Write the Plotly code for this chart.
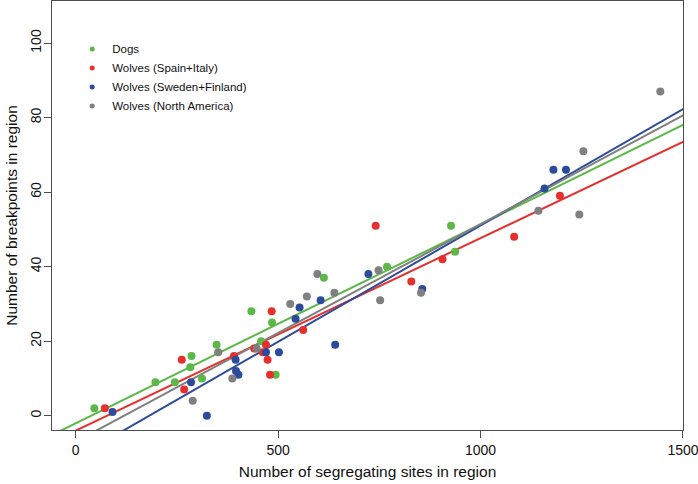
import numpy as np
import plotly.graph_objects as go

# ---- data ----
series_names = ["Dogs", "Wolves (Spain+Italy)", "Wolves (Sweden+Finland)", "Wolves (North America)"]
series_colors = ["#5cb848", "#e5302d", "#2d4b9b", "#808080"]

dogs_x = [46, 197, 245, 283, 286, 312, 348, 434, 458, 485, 494, 613, 769, 927, 937]
dogs_y = [2, 9, 9, 13, 16, 10, 19, 28, 20, 25, 11, 37, 40, 51, 44]

spit_x = [72, 262, 268, 391, 441, 462, 470, 474, 480, 484, 562, 741, 829, 906, 1083, 1196]
spit_y = [2, 15, 7, 16, 18, 17, 19, 15, 11, 28, 23, 51, 36, 42, 48, 59]

swfi_x = [91, 285, 324, 395, 396, 402, 470, 502, 543, 553, 605, 641, 723, 856, 1158, 1180, 1211]
swfi_y = [1, 9, 0, 15, 12, 11, 17, 17, 26, 29, 31, 19, 38, 34, 61, 66, 66]

noam_x = [289, 352, 387, 447, 530, 571, 597, 639, 748, 752, 853, 1143, 1244, 1254, 1444]
noam_y = [4, 17, 10, 18, 30, 32, 38, 33, 39, 31, 33, 55, 54, 71, 87]

x_ticks = [0, 500, 1000, 1500]
y_ticks = [0, 20, 40, 60, 80, 100]

all_x = [dogs_x, spit_x, swfi_x, noam_x]
all_y = [dogs_y, spit_y, swfi_y, noam_y]

x_range = [-58.5, 1500.05]
y_range = [-3.85, 111.3]

fig = go.Figure()

# regression lines (least squares fit of each series)
line_x = np.array([-200.0, 1700.0])
for xs, ys, col, name in zip(all_x, all_y, series_colors, series_names):
    b, a = np.polyfit(xs, ys, 1)
    fig.add_trace(go.Scatter(x=line_x, y=a + b * line_x, mode="lines",
                             line=dict(color=col, width=2), showlegend=False,
                             hoverinfo="skip"))

# points
for xs, ys, col, name in zip(all_x, all_y, series_colors, series_names):
    fig.add_trace(go.Scatter(x=xs, y=ys, mode="markers", name=name,
                             marker=dict(color=col, size=8, line=dict(width=0)),
                             showlegend=False, cliponaxis=True))

# legend entries (small dots like the reference legend)
for col, name in zip(series_colors, series_names):
    fig.add_trace(go.Scatter(x=[None], y=[None], mode="markers", name=name,
                             marker=dict(color=col, size=5)))

axis_common = dict(showgrid=False, zeroline=False, showline=True, mirror=True,
                   linecolor="#4d4d4d", linewidth=1, ticks="outside", ticklen=7,
                   tickcolor="#4d4d4d", tickwidth=1, ticklabeloverflow="allow",
                   tickfont=dict(family="Liberation Sans, Arial, sans-serif", size=14, color="#111"))

fig.update_layout(
    width=698, height=484,
    margin=dict(l=52, r=15, t=1, b=54, autoexpand=False),
    paper_bgcolor="white", plot_bgcolor="white",
    font=dict(family="Liberation Sans, Arial, sans-serif", color="#111"),
    xaxis=dict(range=x_range, tickvals=x_ticks, ticktext=[str(v) for v in x_ticks],
               title=dict(text="Number of segregating sites in region",
                          font=dict(size=15.5), standoff=9),
               **axis_common),
    yaxis=dict(range=y_range, tickvals=y_ticks, ticktext=[str(v) for v in y_ticks],
               tickangle=-90, ticklabelstandoff=-3,
               title=dict(text="Number of breakpoints in region",
                          font=dict(size=15.5), standoff=6),
               **axis_common),
    legend=dict(x=0.032, y=0.922, xanchor="left", yanchor="top",
                bgcolor="rgba(0,0,0,0)", font=dict(size=11.5, color="#111"),
                tracegroupgap=0, itemsizing="trace"),
)

fig.write_html("out.html", config={"displayModeBar": False},
               post_script="document.body.style.margin='0';document.body.style.padding='0';")
